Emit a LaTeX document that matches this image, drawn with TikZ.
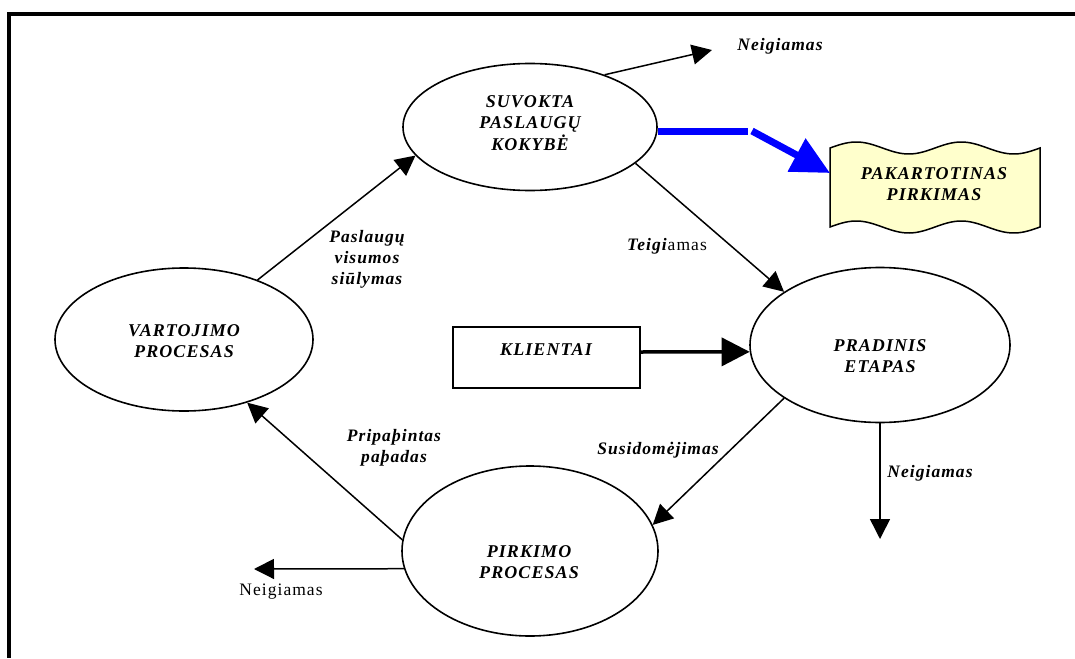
\documentclass[tikz,border=0pt]{standalone}
\usepackage{fontspec}
\setmainfont{Liberation Serif}[LetterSpace=6]
\usetikzlibrary{arrows.meta,shapes.geometric}
\definecolor{pblue}{RGB}{0,0,255}
\definecolor{pyellow}{RGB}{255,255,204}
\begin{document}
\begin{tikzpicture}[x=1pt,y=-1pt,
  ell/.style={draw, ellipse, line width=1.6pt, inner sep=0pt},
  ttl/.style={font=\fontsize{18}{21.5}\selectfont\bfseries\itshape, align=center, inner sep=0pt},
  lab/.style={font=\fontsize{17.5}{21}\selectfont\bfseries\itshape, align=center, inner sep=0pt},
  plainlab/.style={font=\fontsize{17.5}{21}\selectfont, align=center, inner sep=0pt},
  con/.style={line width=1.5pt, -{Triangle[length=20pt,width=20pt]}},
  bigcon/.style={line width=3.5pt, -{Triangle[length=28pt,width=28pt]}},
  bluecon/.style={pblue, line width=7pt},
]
\useasboundingbox (0,0) rectangle (1075,658);
% frame
\draw[line width=4pt] (1075,14) -- (9,14) -- (9,658);

% ellipses
\node[ell, minimum width=254pt, minimum height=127pt] (suv) at (530,127) {};
\node[ttl] (suvT) at (530,123) {SUVOKTA\\PASLAUGŲ\\KOKYBĖ};

\node[ell, minimum width=258pt, minimum height=143pt] (var) at (184,339.5) {};
\node[ttl] (varT) at (184,341) {VARTOJIMO\\PROCESAS};

\node[ell, minimum width=260pt, minimum height=155pt] (pra) at (880,345) {};
\node[ttl] (praT) at (880,356) {PRADINIS\\ETAPAS};

\node[ell, minimum width=256pt, minimum height=170pt] (pir) at (530,551) {};
\node[ttl] (pirT) at (529,562) {PIRKIMO\\PROCESAS};

% klientai box
\node[draw, line width=1.5pt, minimum width=187pt, minimum height=61pt, inner sep=0pt] (kl) at (546.5,357.5) {};
\node[ttl] (klT) at (546,350) {KLIENTAI};

% wavy banner
\draw[fill=pyellow, line width=1.5pt]
  plot[domain=0:210, samples=70] ({830+\x}, {148-6*sin(\x*3.428571)})
  -- plot[domain=210:0, samples=70] ({830+\x}, {227-6*sin(\x*3.428571)})
  -- cycle;
\node[ttl] (pak) at (934,184) {PAKARTOTINAS\\PIRKIMAS};
\coordinate (pakIn) at (830,173);

% free ends and labels
\coordinate (topEnd) at (712,50);
\node[lab] (negTop) at (780,46) {Neigiamas};
\coordinate (downEnd) at (880,539);
\node[lab] (negRight) at (930,473) {Neigiamas};
\coordinate (leftEnd) at (254,569);
\node[plainlab] (negLeft) at (281,592) {Neigiamas};

\node[lab] (lPas) at (367,259) {Paslaugų\\visumos\\siūlymas};
\node[font=\fontsize{17.5}{21}\selectfont, inner sep=0pt] (lTei) at (667,246) {\textbf{\textit{Teigi}}amas};
\node[lab] (lPri) at (394,448) {Pripaþintas\\paþadas};
\node[lab] (lSus) at (658,450) {Susidomėjimas};

% connectors
\draw[con] (var.39) -- (suv.194);
\draw[con] (suv.35) -- (topEnd);
\draw[con] (suv.-19) -- (pra.151);
\draw[con] (pra.209) -- (pir.12);
\draw[con] (pra.south) -- (downEnd);
\draw[con] (pir.175) -- (var.-45);
\draw[con] (pir.188) -- (leftEnd);
\draw[bigcon] ([yshift=5.5pt]kl.east) -- (pra.183);

% blue arrow
\coordinate (bmid) at (748,131);
\coordinate (bstart) at (752,131);
\draw[bluecon] (suv.-2) -- (bmid |- suv.-2);
\draw[bluecon, -{Triangle[length=38pt,width=36pt]}] (bstart) -- (pakIn);
\end{tikzpicture}
\end{document}
